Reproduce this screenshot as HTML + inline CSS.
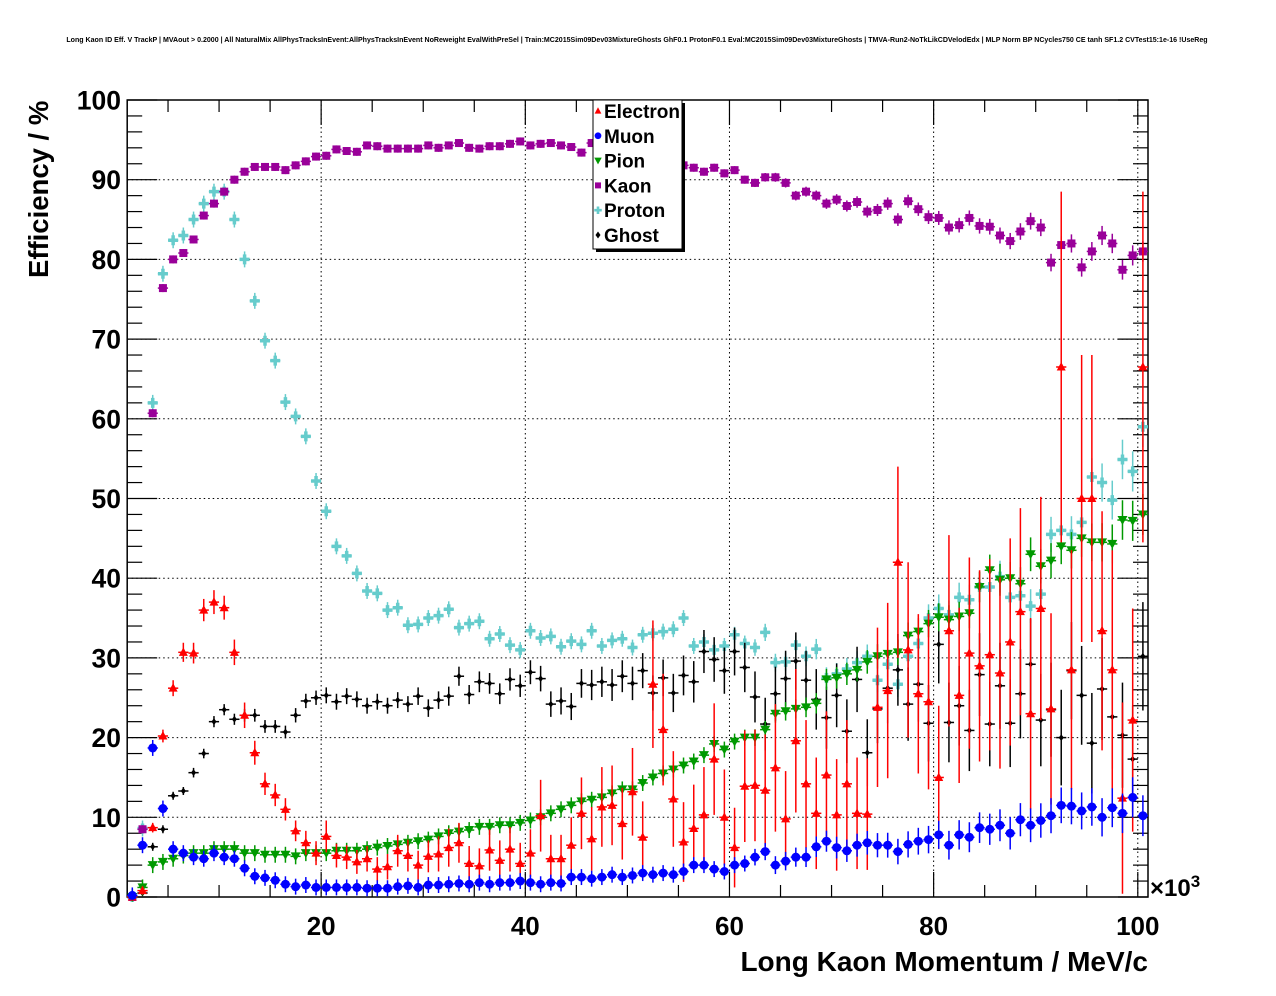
<!DOCTYPE html>
<html><head><meta charset="utf-8"><style>
body{margin:0;background:#fff;}
svg{display:block;font-family:"Liberation Sans",Arial,sans-serif;}
</style></head><body>
<svg id="chart" width="1276" height="996" xmlns="http://www.w3.org/2000/svg">
<text x="637" y="42" font-size="7.05" font-weight="bold" text-anchor="middle">Long Kaon ID Eff. V TrackP | MVAout &gt; 0.2000 | All NaturalMix AllPhysTracksInEvent:AllPhysTracksInEvent NoReweight EvalWithPreSel | Train:MC2015Sim09Dev03MixtureGhosts GhF0.1 ProtonF0.1 Eval:MC2015Sim09Dev03MixtureGhosts | TMVA-Run2-NoTkLikCDVelodEdx | MLP Norm BP NCycles750 CE tanh SF1.2 CVTest15:1e-16 !UseReg</text>
<g id="grid"></g>
<g id="axes"></g>
<g id="series"></g>
<text transform="translate(48,278) rotate(-90)" font-size="27.5" font-weight="bold">Efficiency / %</text>
<text x="1148" y="971" font-size="28" font-weight="bold" text-anchor="end">Long Kaon Momentum / MeV/c</text>
<text x="1150" y="896" font-size="24" font-weight="bold">×10<tspan font-size="17" dy="-9">3</tspan></text>
<g>
<rect x="596" y="103" width="89" height="149" fill="#000"/>
<rect x="593" y="100" width="89" height="149" fill="#fff" stroke="#000" stroke-width="1"/>
<g id="legend-entries"></g>
</g>
</svg>
<script>
const categories = [];
for (let i = 1; i <= 100; i++) categories.push(i + 0.5);
const xTicks = [20, 40, 60, 80, 100];
const yTicks = [0, 10, 20, 30, 40, 50, 60, 70, 80, 90, 100];
const seriesNames = ["Electron", "Muon", "Pion", "Kaon", "Proton", "Ghost"];
const electron = [0,0.8,8.7,20.2,26.2,30.7,30.6,36,37,36.3,30.7,22.8,18.1,14.2,12.8,11,8.3,6.8,5.5,7.6,5.2,5,4.4,4.8,3.5,3.8,5.8,5.2,4,5.1,5.4,6.2,6.8,4.2,3.9,5.9,4.6,6,4.2,5.5,10.2,4.8,4.8,6.5,10.5,7.3,11.3,11.5,9.2,13.2,7.5,26.7,21,12.3,6.9,8.6,10.3,17.3,10,6.2,13.9,14,13.4,16.2,9.8,19.6,14.2,10.5,15.3,10.3,14.2,10.5,10.4,23.8,25.9,42,31,25.5,24.5,15,33.4,25.3,30.6,29,30.4,28.1,32,35.8,23,36.2,23.6,66.5,28.5,50,50,33.4,28.5,12.4,22.2,66.5];
const electronErr = [0,0.5,0.6,0.8,1,1.2,1.3,1.4,1.5,1.5,1.6,1.6,1.5,1.4,1.4,1.4,1.3,1.5,1.5,2,1.5,1.5,1.5,1.6,1.5,1.6,2,2,1.8,2,2.2,2.4,2.5,2.2,2.2,2.6,2.5,2.8,2.6,3,4.5,3,3,3.5,4.5,4,5,5,4.5,5.5,4.5,8,7,6,5,5.5,6,7,6,5,7,7,7,8,6,9,8,7,8,7,8,7,7,10,11,12,11,10,11,9,12,11,12,12,12,12,13,13,12,14,12,22,15,18,18,15,15,12,14,22];
const muon = [0.2,6.5,18.7,11.1,6,5.5,5,4.8,5.5,5,4.8,3.6,2.6,2.4,2.1,1.6,1.3,1.5,1.2,1.2,1.2,1.2,1.2,1.1,1.1,1.1,1.3,1.4,1.2,1.5,1.5,1.6,1.7,1.6,1.8,1.6,1.8,1.8,2,1.8,1.6,1.8,1.7,2.5,2.5,2.3,2.5,2.8,2.5,2.7,3,2.8,3,2.8,3.2,4,4,3.5,3.2,4,4.2,5,5.7,4,4.5,5,5,6.3,7,6.2,5.8,6.5,6.8,6.5,6.5,5.7,6.6,7,7.2,7.8,6.5,7.8,7.5,8.7,8.5,9,8,9.7,9,9.6,10.2,11.5,11.4,10.8,11.3,10,11.2,10.5,12.5,10.2];
const pion = [0,1.2,4,4.4,4.8,5.2,5.5,5.5,6,6,6,5.5,5.5,5.3,5.3,5.3,5.1,5.5,5.5,5.5,5.8,5.8,5.8,6,6.2,6.4,6.6,6.8,7,7.2,7.6,8,8.2,8.4,8.8,8.8,9,9,9.3,9.6,10,10.5,11,11.5,12,12.2,12.5,13,13.5,13.5,14.3,15,15.5,16,16.5,17,17.8,19.2,18.5,19.5,20,20,21,23,23.3,23.6,23.8,24.3,27.3,27.5,28,28.5,29.5,30.2,30.5,30.7,32.8,33.3,34.3,35.1,34.8,35.2,35.6,38.9,41,39.8,40,39.3,43,41.5,42.2,44,43.5,45,44.5,44.5,44.3,47.3,47.2,48];
const kaon = [0,8.5,60.7,76.4,80,80.8,82.5,85.5,87,88.5,90,91,91.6,91.6,91.6,91.2,91.8,92.3,92.9,93,93.8,93.6,93.5,94.3,94.2,93.9,93.9,93.9,93.9,94.3,94,94.3,94.6,94,93.9,94.2,94.2,94.5,94.8,94.3,94.5,94.6,94.3,94.1,93.4,94.6,94,93.5,93.4,93.2,93,92.8,92.5,92.2,91.8,91.5,91,91.5,90.8,91.2,90,89.6,90.3,90.3,89.6,88,88.5,88,87,87.5,86.7,87.2,86,86.2,87,85,87.3,86.3,85.3,85.2,84,84.3,85.2,84.2,84.1,83,82.3,83.5,84.8,84,79.6,81.8,82,79,81,83,82,78.7,80.5,81];
const proton = [0,8.6,62,78.2,82.4,83,85,87,88.5,88.5,85,80,74.8,69.8,67.3,62.1,60.3,57.8,52.2,48.4,44,42.8,40.6,38.4,38.1,36,36.3,34.1,34.2,35,35.3,36.1,33.8,34.3,34.6,32.4,33,31.6,31,33.4,32.5,32.7,31.4,32.1,31.7,33.4,31.5,32.2,32.4,31.3,32.9,33.1,33.3,33.6,35,31.5,32,31,31.5,32.9,31.8,31.3,33.2,29.4,29.5,31.6,30.2,31.1,27.5,28,28.6,29.4,30.2,27.2,29.2,26.7,30.2,31.8,35,36.2,35.4,37.6,37.3,38.9,38.9,40.2,37.6,37.8,36.5,38,45.5,46,45.5,47,52.7,52,49.8,54.9,53.4,59];
const ghost = [0,0.5,6.3,8.5,12.7,13.3,15.6,18,22,23.5,22.3,22.8,22.8,21.4,21.4,20.7,22.8,24.6,25,25.3,24.5,25.2,24.8,24,24.5,24,24.7,24.2,25.2,23.7,24.7,25.2,27.7,25.4,27,26.8,25.5,27.3,26.5,28.2,27.4,24.2,24.6,23.9,26.8,26.6,27,26.6,27.7,26.8,28.4,25.6,27.5,25.6,27.8,27,30.8,29.8,28.4,30.8,28.8,25.1,21.7,25.5,27.4,29.6,27.2,24.8,22.5,25.3,20.8,27.3,18.1,23.6,26.2,28.5,24.2,26.7,21.8,31.7,21.9,24,20.9,27.9,21.7,26.5,21.8,25.5,29.2,22.2,23.5,20,28.4,25.3,19.3,26.1,22.6,20.3,17.3,30.2];
const ghostErr = [0,0.3,0.5,0.5,0.5,0.5,0.6,0.6,0.7,0.7,0.7,0.8,0.8,0.8,0.8,0.8,0.9,0.9,0.9,1,1,1,1,1,1,1,1,1,1.1,1.1,1.1,1.2,1.2,1.2,1.3,1.3,1.3,1.4,1.4,1.5,1.6,1.6,1.7,1.7,1.8,1.9,1.9,2,2,2.1,2.2,2.2,2.3,2.4,2.5,2.6,2.7,2.8,2.9,3,3.1,3.2,3.3,3.4,3.5,3.6,3.7,3.8,3.9,4,4,4.1,4.2,4.3,4.4,4.5,4.6,4.7,4.8,4.9,5,5,5.1,5.2,5.3,5.4,5.5,5.6,5.7,5.8,5.9,6,6.1,6.2,6.3,6.4,6.5,6.6,6.7,6.8];

const X0 = 1, X1 = 101, PL = 127.2, PR = 1148, PT = 100, PB = 897;
function xs(v){ return PL + (v - X0) / (X1 - X0) * (PR - PL); }
function ys(v){ return PB - v / 100 * (PB - PT); }
const NS = "http://www.w3.org/2000/svg";
function mk(tag, attrs, parent){
  const e = document.createElementNS(NS, tag);
  for (const k in attrs) e.setAttribute(k, attrs[k]);
  parent.appendChild(e); return e;
}
const grid = document.getElementById('grid');
const axes = document.getElementById('axes');
const ser = document.getElementById('series');

xTicks.forEach(t => {
  const l = mk('line', {x1: xs(t), x2: xs(t), y1: PT, y2: PB, stroke: '#000', 'stroke-width': 1, 'stroke-dasharray': '1.5,3'}, grid);
  
  
});
yTicks.slice(1, -1).forEach(t => {
  const l = mk('line', {x1: PL, x2: PR, y1: ys(t), y2: ys(t), stroke: '#000', 'stroke-width': 1, 'stroke-dasharray': '1.5,3'}, grid);
  
  
});
const fr = mk('rect', {x: PL, y: PT, width: PR - PL, height: PB - PT, fill: 'none', stroke: '#000', 'stroke-width': 1.5}, axes);


for (let v = 5; v <= 100; v += 5) {
  const len = v % 20 === 0 ? 25 : 12;
  mk('line', {x1: xs(v), x2: xs(v), y1: PB, y2: PB - len, stroke: '#000', 'stroke-width': 1.2}, axes);
  mk('line', {x1: xs(v), x2: xs(v), y1: PT, y2: PT + len, stroke: '#000', 'stroke-width': 1.2}, axes);
}
xTicks.forEach(t => {
  const tx = mk('text', {x: xs(t), y: 935, 'font-size': 26, 'font-weight': 'bold', 'text-anchor': 'middle'}, axes);
  tx.textContent = t;
  
  
});
for (let v = 0; v <= 100; v += 2) {
  const len = v % 10 === 0 ? 30 : 15;
  mk('line', {x1: PL, x2: PL + len, y1: ys(v), y2: ys(v), stroke: '#000', 'stroke-width': 1.2}, axes);
  mk('line', {x1: PR, x2: PR - len, y1: ys(v), y2: ys(v), stroke: '#000', 'stroke-width': 1.2}, axes);
}
yTicks.forEach(t => {
  const tx = mk('text', {x: 121, y: ys(t) + 9.5, 'font-size': 26.5, 'font-weight': 'bold', 'text-anchor': 'end'}, axes);
  tx.textContent = t;
  
  
});

function marker(type, cx, cy, color, g){
  let e;
  if (type === 'tri') e = mk('polygon', {points: `${cx},${cy-5} ${cx-4.5},${cy+3.5} ${cx+4.5},${cy+3.5}`, fill: color}, g);
  else if (type === 'circ') e = mk('circle', {cx: cx, cy: cy, r: 4.5, fill: color}, g);
  else if (type === 'tridown') e = mk('polygon', {points: `${cx-5},${cy-4} ${cx+5},${cy-4} ${cx},${cy+5}`, fill: color}, g);
  else if (type === 'sq') e = mk('rect', {x: cx-4, y: cy-4, width: 8, height: 8, fill: color}, g);
  else if (type === 'cross') { e = mk('path', {d: `M${cx-5},${cy}H${cx+5}M${cx},${cy-5}V${cy+5}`, stroke: color, 'stroke-width': 3.5}, g); }
  else e = mk('polygon', {points: `${cx},${cy-3.5} ${cx+2.5},${cy} ${cx},${cy+3.5} ${cx-2.5},${cy}`, fill: color}, g);
  return e;
}
const defs = [
  {name: 'Electron', vals: electron, err: electronErr, color: '#ff0000', m: 'tri'},
  {name: 'Muon', vals: muon, err: null, eDef: 1.0, color: '#0000ff', m: 'circ'},
  {name: 'Pion', vals: pion, err: null, eDef: 1.0, color: '#009900', m: 'tridown'},
  {name: 'Kaon', vals: kaon, err: null, eDef: 0.5, color: '#990099', m: 'sq'},
  {name: 'Proton', vals: proton, err: null, eDef: 1.0, color: '#66cccc', m: 'cross'},
  {name: 'Ghost', vals: ghost, err: ghostErr, color: '#000000', m: 'dia'}
];
const drawOrder = [4, 3, 5, 2, 0, 1];
drawOrder.forEach(si => {
  const d = defs[si];
  const g = mk('g', {}, ser);
  
  
  d.vals.forEach((v, i) => {
    const c = categories[i];
    const cx = xs(c), cy = ys(v);
    let er = d.err ? d.err[i] : d.eDef;
    if (d.name !== 'Electron' && d.name !== 'Ghost' && i > 60) er = er * (1 + (i - 60) / 25);
    const y1 = Math.max(ys(Math.min(v + er, 100)), PT), y2 = Math.min(ys(Math.max(v - er, 0)), PB);
    mk('line', {x1: xs(c - 0.5), x2: xs(c + 0.5), y1: cy, y2: cy, stroke: d.color, 'stroke-width': 1.5}, g);
    mk('line', {x1: cx, x2: cx, y1: y1, y2: y2, stroke: d.color, 'stroke-width': 1.5}, g);
    const mkr = marker(d.m, cx, cy, d.color, g);
    
    
  });
});
const le = document.getElementById('legend-entries');
seriesNames.forEach((n, i) => {
  const d = defs[i];
  const y = 111 + i * 24.8;
  const g = mk('g', {}, le);
  
  
  const sc = d.m === 'dia' ? 1 : 0.75;
  marker(d.m, 598, y, d.color, g).setAttribute('transform', `translate(${598*(1-sc)},${y*(1-sc)}) scale(${sc})`);
  const t = mk('text', {x: 604, y: y + 7, 'font-size': 19, 'font-weight': 'bold'}, g);
  t.textContent = n;
});
</script>
</body></html>
